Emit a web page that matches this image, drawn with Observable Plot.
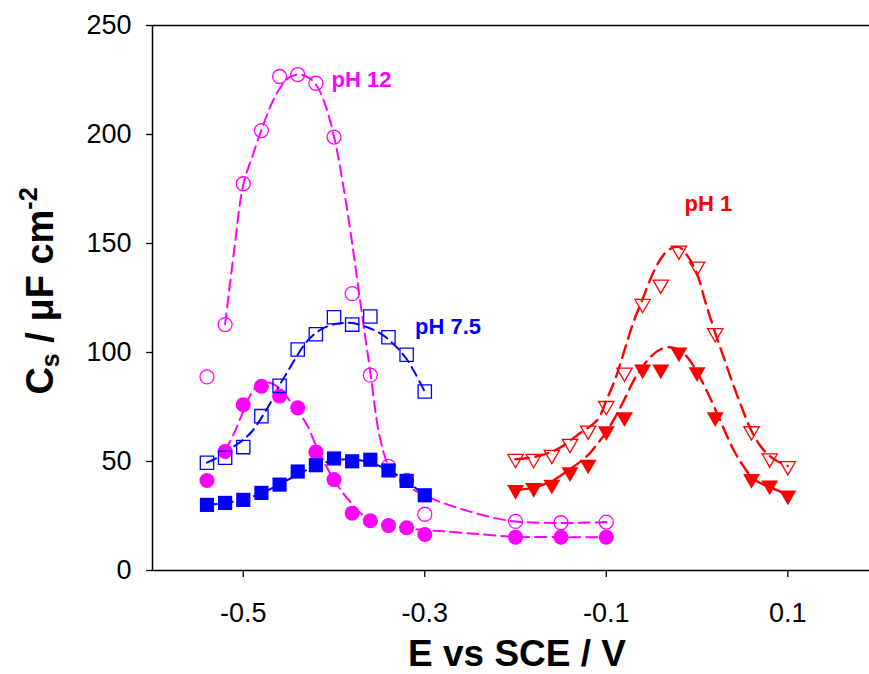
<!DOCTYPE html>
<html>
<head>
<meta charset="utf-8">
<script src="https://cdn.jsdelivr.net/npm/d3@7"></script>
<script src="https://cdn.jsdelivr.net/npm/@observablehq/plot@0.6"></script>
<style>
  html, body { margin: 0; padding: 0; background: #fff; }
  #chart { width: 869px; height: 674px; overflow: hidden; }
</style>
</head>
<body>
<div id="chart"></div>
<script>
// ---------- measured points ----------
const E12 = [-0.54, -0.52, -0.50, -0.48, -0.46, -0.44, -0.42, -0.40, -0.38, -0.36, -0.34, -0.32, -0.30, -0.20, -0.15, -0.10];
const C12open   = [88.8, 112.8, 177.4, 201.8, 226.6, 227.5, 223.5, 198.8, 127.0, 89.6, 47.8, 41.3, 25.8, 22.5, 21.9, 22.2];
const C12filled = [41.3, 54.6, 76.0, 84.5, 80.0, 74.6, 54.4, 41.7, 26.3, 22.8, 20.6, 19.6, 16.5, 15.3, 15.3, 15.3];

const E75 = [-0.54, -0.52, -0.50, -0.48, -0.46, -0.44, -0.42, -0.40, -0.38, -0.36, -0.34, -0.32, -0.30];
const C75open   = [49.4, 51.7, 56.6, 70.8, 84.7, 101.4, 108.4, 116.2, 112.8, 116.5, 107.0, 99.0, 82.1];
const C75filled = [30.1, 31.0, 32.4, 35.6, 39.4, 45.4, 48.3, 51.4, 50.1, 50.8, 45.9, 41.1, 34.5];

const E1 = [-0.20, -0.18, -0.16, -0.14, -0.12, -0.10, -0.08, -0.06, -0.04, -0.02, 0.00, 0.02, 0.06, 0.08, 0.10];
const C1open   = [51.2, 51.2, 53.1, 58.1, 64.2, 75.5, 90.8, 122.3, 131.2, 146.8, 139.4, 108.9, 63.9, 51.5, 47.9];
const C1filled = [37.0, 37.9, 39.4, 45.1, 48.6, 63.9, 70.3, 92.2, 92.2, 100.0, 91.0, 70.3, 42.0, 39.0, 34.4];

// ---------- fitted (dashed) curves ----------
const fitE12open = [-0.52, -0.51, -0.50, -0.49, -0.48, -0.47, -0.46, -0.45, -0.44, -0.43, -0.42, -0.41, -0.40, -0.39, -0.38, -0.37, -0.36, -0.35, -0.34, -0.33, -0.32, -0.30, -0.28, -0.25, -0.22, -0.20, -0.15, -0.10];
const fitC12open = [113, 147, 177, 190, 202, 213, 221, 226, 227.5, 226.5, 223, 214, 199, 177, 150, 120, 91, 62, 48, 42.5, 39, 34.5, 31, 27, 23.8, 22.5, 21.8, 22.2];

const fitE12filled = [-0.52, -0.51, -0.50, -0.49, -0.48, -0.47, -0.46, -0.45, -0.44, -0.43, -0.42, -0.41, -0.40, -0.39, -0.38, -0.37, -0.36, -0.34, -0.32, -0.30, -0.28, -0.25, -0.22, -0.20, -0.15, -0.10];
const fitC12filled = [55, 63, 73, 82, 86, 86, 83.5, 78.5, 73, 67, 57.5, 49, 41.5, 35.5, 30.5, 26, 23.5, 21, 19.5, 18.5, 18, 17, 16, 15.5, 15.3, 15.3];

const fitE75open = [-0.54, -0.53, -0.52, -0.51, -0.50, -0.49, -0.48, -0.47, -0.46, -0.45, -0.44, -0.43, -0.42, -0.41, -0.40, -0.39, -0.38, -0.37, -0.36, -0.35, -0.34, -0.33, -0.32, -0.31, -0.30];
const fitC75open = [49.5, 51.5, 54, 57, 60, 64, 70, 77, 85, 92, 99, 105, 109, 111.5, 113, 113.5, 113.5, 112.5, 111, 109, 106, 102, 97, 90, 82];

const fitE75filled = [-0.54, -0.52, -0.50, -0.48, -0.46, -0.44, -0.42, -0.40, -0.38, -0.36, -0.34, -0.32, -0.30];
const fitC75filled = [30, 31, 32.5, 35.5, 39.5, 44, 48, 50.5, 51, 49.5, 46, 41, 34.5];

const fitE1open = [-0.20, -0.18, -0.16, -0.15, -0.13, -0.11, -0.10, -0.09, -0.08, -0.07, -0.06, -0.05, -0.04, -0.03, -0.02, -0.01, 0.00, 0.01, 0.02, 0.03, 0.04, 0.05, 0.06, 0.07, 0.08, 0.09, 0.10];
const fitC1open = [51, 52, 54.5, 56.6, 62.7, 69, 78, 88, 101, 114, 124.5, 135, 143, 147.5, 148.3, 144, 136, 122, 109, 97, 85, 74, 64, 57, 52.5, 49.8, 47.9];

const fitE1filled = [-0.20, -0.18, -0.16, -0.15, -0.13, -0.12, -0.11, -0.10, -0.09, -0.08, -0.07, -0.06, -0.05, -0.04, -0.03, -0.02, -0.01, 0.00, 0.01, 0.02, 0.03, 0.04, 0.05, 0.06, 0.07, 0.08, 0.09, 0.10];
const fitC1filled = [37, 38, 41, 43.6, 49.5, 53, 58, 63.5, 70.5, 78.5, 87, 93.5, 98.5, 101.5, 102.4, 101.2, 97.5, 91, 83, 74, 64.5, 55.5, 48.5, 43, 40, 38.3, 36.5, 34.4];

// ---------- axes & labels ----------
const xTicks = [-0.5, -0.3, -0.1, 0.1];
const xTickLabels = ["-0.5", "-0.3", "-0.1", "0.1"];
const yTicks = [0, 50, 100, 150, 200, 250];
const yTickLabels = ["0", "50", "100", "150", "200", "250"];

const seriesLabels = ["pH 12", "pH 7.5", "pH 1"];
const labelE = [-0.4027, -0.3107, -0.0138];
const labelC = [225, 111.5, 168];
const labelColors = ["#ff00ff", "#0000ff", "#ff0000"];

const MAGENTA = "#ff00ff", BLUE = "#0000ff", RED = "#ff0000";

const zip = (xs, ys) => xs.map((x, i) => ({x, y: ys[i]}));

// inverted triangle symbol (same area convention as d3.symbolTriangle)
const triangleDown = {
  draw(context, size) {
    const y = Math.sqrt(size / (3 * Math.sqrt(3)));
    context.moveTo(0, 2 * y);
    context.lineTo(-Math.sqrt(3) * y, -y);
    context.lineTo(Math.sqrt(3) * y, -y);
    context.closePath();
  }
};

const dash = (data, color, dasharray, w) =>
  Plot.line(data, {x: "x", y: "y", stroke: color, strokeWidth: w, strokeDasharray: dasharray, curve: "catmull-rom"});

const chart = Plot.plot({
  width: 869,
  height: 674,
  marginLeft: 152,
  marginRight: 0,
  marginTop: 25,
  marginBottom: 104,
  style: {fontFamily: "'Liberation Sans', Arial, sans-serif", background: "#fff", color: "#000"},
  x: {domain: [-0.6, 0.19]},
  y: {domain: [0, 250]},
  marks: [
    // frame
    Plot.ruleY([0], {stroke: "#000", strokeWidth: 1.5}),
    Plot.ruleY([250], {stroke: "#000", strokeWidth: 1.5}),
    Plot.ruleX([-0.6], {stroke: "#000", strokeWidth: 1.5}),
    Plot.axisX({ticks: xTicks, tickFormat: (d, i) => xTickLabels[i], tickSize: 7, tickPadding: 25, fontSize: 27, label: null, stroke: "#000", strokeWidth: 1.3}),
    Plot.axisY({ticks: yTicks, tickFormat: (d, i) => yTickLabels[i], tickSize: 6, tickPadding: 15, fontSize: 27, label: null, stroke: "#000", strokeWidth: 1.3}),

    // fitted curves
    dash(zip(fitE12open, fitC12open), MAGENTA, "11,6", 2),
    dash(zip(fitE12filled, fitC12filled), MAGENTA, "11,6", 2),
    dash(zip(fitE75open, fitC75open), BLUE, "10,6", 2),
    dash(zip(fitE75filled, fitC75filled), BLUE, "10,6", 2),
    dash(zip(fitE1open, fitC1open), RED, "13,7", 2.4),
    dash(zip(fitE1filled, fitC1filled), RED, "13,7", 2.4),

    // markers
    Plot.dot(zip(E12, C12open), {x: "x", y: "y", r: 7, symbol: "circle", stroke: MAGENTA, strokeWidth: 1.3, fill: "none"}),
    Plot.dot(zip(E12, C12filled), {x: "x", y: "y", r: 7.5, symbol: "circle", fill: MAGENTA, stroke: "none"}),
    Plot.dot(zip(E75, C75open), {x: "x", y: "y", r: 7.5, symbol: "square", stroke: BLUE, strokeWidth: 1.3, fill: "none"}),
    Plot.dot(zip(E75, C75filled), {x: "x", y: "y", r: 8, symbol: "square", fill: BLUE, stroke: "none"}),
    Plot.dot(zip(E1, C1open), {x: "x", y: "y", r: 5.7, symbol: triangleDown, stroke: RED, strokeWidth: 1.3, fill: "none"}),
    Plot.dot(zip(E1, C1filled), {x: "x", y: "y", r: 6.3, symbol: triangleDown, fill: RED, stroke: "none"}),

    // series labels
    Plot.text(seriesLabels.map((t, i) => ({t, x: labelE[i], y: labelC[i], c: labelColors[i]})),
      {x: "x", y: "y", text: "t", fill: "c", textAnchor: "start", lineAnchor: "middle", fontSize: 22, fontWeight: "bold"})
  ]
});

document.getElementById("chart").appendChild(chart);

// axis titles with sub/superscripts
const svg = d3.select(chart);
svg.append("text")
  .attr("x", 517).attr("y", 666)
  .attr("text-anchor", "middle")
  .attr("font-size", 37).attr("font-weight", "bold")
  .attr("font-family", "'Liberation Sans', Arial, sans-serif")
  .attr("fill", "#000")
  .text("E vs SCE / V");

const yl = svg.append("text")
  .attr("transform", "translate(53,291) rotate(-90)")
  .attr("text-anchor", "middle")
  .attr("font-size", 38).attr("font-weight", "bold")
  .attr("font-family", "'Liberation Sans', Arial, sans-serif")
  .attr("fill", "#000");
yl.append("tspan").text("C");
yl.append("tspan").attr("font-size", 25).attr("dy", 6).text("s");
yl.append("tspan").attr("dy", -6).text(" / \u03bcF cm");
yl.append("tspan").attr("font-size", 25).attr("dy", -16).text("-2");
</script>
</body>
</html>
